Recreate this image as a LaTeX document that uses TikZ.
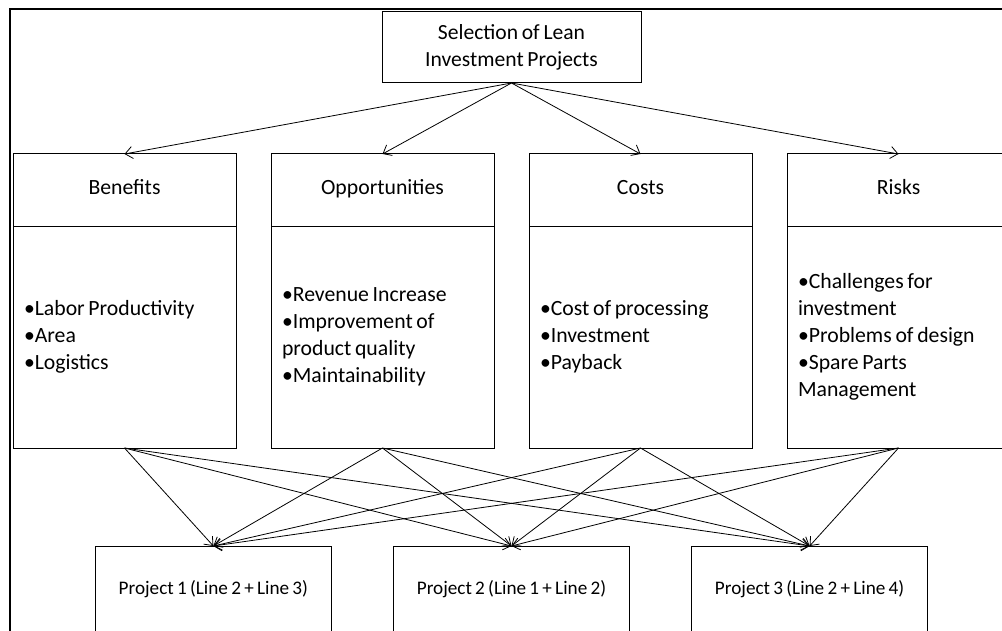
\documentclass[tikz,border=0pt]{standalone}
\usepackage{fontspec}
\setmainfont{Carlito}[WordSpace=0.75]
\usetikzlibrary{arrows.meta,positioning}

\tikzset{
  box/.style={draw, line width=0.75pt, inner sep=0pt, outer sep=0pt},
  topbox/.style={box, minimum width=194.25pt, minimum height=53.25pt, align=center, font=\fontsize{16.2}{20.25}\selectfont},
  headbox/.style={box, minimum width=167.25pt, minimum height=54pt, text height=11pt, text depth=3.5pt, font=\fontsize{16.3}{20.25}\selectfont},
  listbox/.style={box, text width=150.75pt, inner xsep=8.25pt, minimum height=166.5pt, align=flush left, font=\fontsize{16.3}{20.25}\selectfont},
  projbox/.style={box, minimum width=176.6pt, minimum height=65.25pt, font=\fontsize{14.4}{17}\selectfont},
  arr/.style={line width=0.6pt, -{Straight Barb[length=5.5pt,width=9pt]}}
}

\begin{document}
\begin{tikzpicture}[x=0.75pt, y=-0.75pt]
  \useasboundingbox (0,0) rectangle (1002,631);
  \clip (0,0) rectangle (1002,631);
  % frame
  \draw[line width=1.5pt] (10,650) -- (10,9) -- (1015,9);
  % goal
  \node[topbox] (sel) at (511.5,47.5) {Selection of Lean\\Investment Projects};
  % criteria: header boxes
  \node[headbox, anchor=north west] (ben) at (13,154) {Benefits};
  \node[headbox, right=26.25pt of ben] (opp) {Opportunities};
  \node[headbox, right=26.25pt of opp] (cos) {Costs};
  \node[headbox, right=26.25pt of cos] (ris) {Risks};
  % criteria: item lists
  \node[listbox, anchor=north] (benl) at (ben.south) {•Labor Productivity\\•Area\\•Logistics};
  \node[listbox, anchor=north] (oppl) at (opp.south) {•Revenue Increase\\•Improvement of\\product quality\\•Maintainability};
  \node[listbox, anchor=north] (cosl) at (cos.south) {•Cost of processing\\•Investment\\•Payback};
  \node[listbox, anchor=north] (risl) at (ris.south) {•Challenges for\\investment\\•Problems of design\\•Spare Parts\\Management};
  % alternatives
  \node[projbox] (p2) at (511.5,589.5) {Project 2 (Line 1 + Line 2)};
  \node[projbox, left=47pt of p2] (p1) {Project 1 (Line 2 + Line 3)};
  \node[projbox, right=47pt of p2] (p3) {Project 3 (Line 2 + Line 4)};
  % goal to criteria
  \draw[arr] (sel.south) -- (ben.north); \draw[arr] (sel.south) -- (opp.north);
  \draw[arr] (sel.south) -- (cos.north); \draw[arr] (sel.south) -- (ris.north);
  % criteria to alternatives
  \draw[arr] (benl.south) -- (p1.north); \draw[arr] (benl.south) -- (p2.north); \draw[arr] (benl.south) -- (p3.north);
  \draw[arr] (oppl.south) -- (p1.north); \draw[arr] (oppl.south) -- (p2.north); \draw[arr] (oppl.south) -- (p3.north);
  \draw[arr] (cosl.south) -- (p1.north); \draw[arr] (cosl.south) -- (p2.north); \draw[arr] (cosl.south) -- (p3.north);
  \draw[arr] (risl.south) -- (p1.north); \draw[arr] (risl.south) -- (p2.north); \draw[arr] (risl.south) -- (p3.north);
\end{tikzpicture}
\end{document}
